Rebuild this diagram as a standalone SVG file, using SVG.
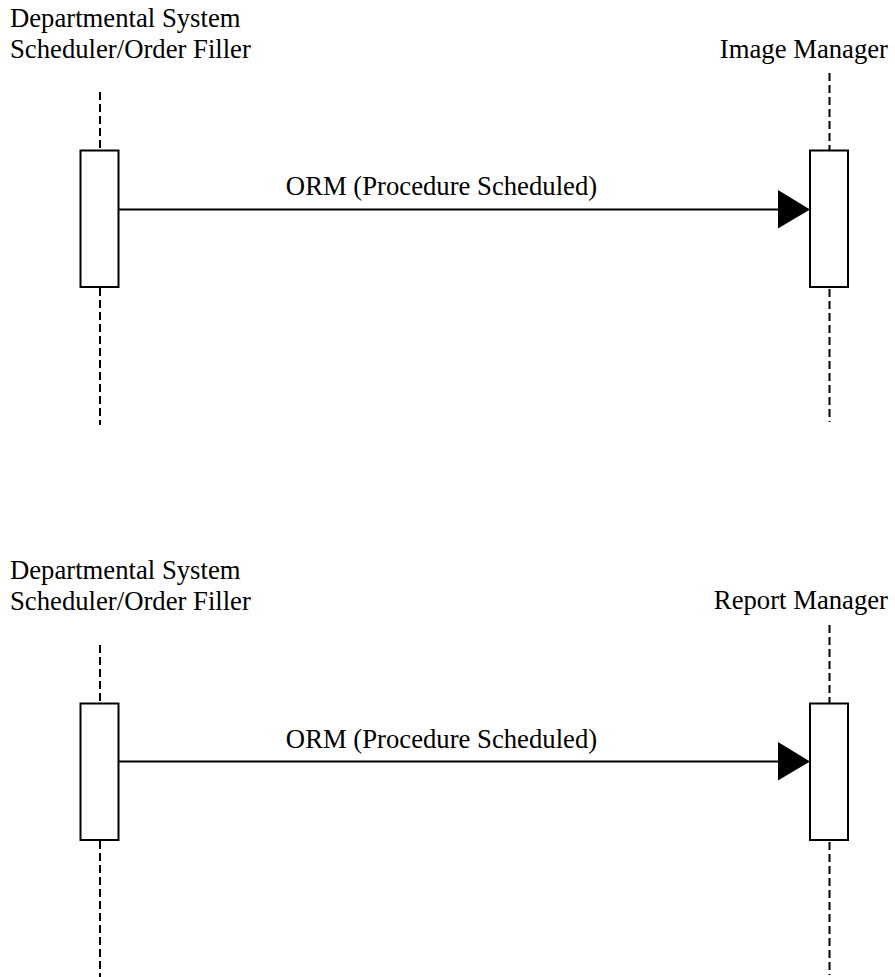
<svg xmlns="http://www.w3.org/2000/svg" width="895" height="977" viewBox="0 0 895 977">
<style>
text{font-family:'Liberation Serif','Times New Roman',serif;font-size:26.7px;fill:#000}
.life{stroke:#000;stroke-width:2;stroke-dasharray:8 4;fill:none}
.act{fill:#fff;stroke:#000;stroke-width:2}
.msg{stroke:#000;stroke-width:2;fill:none}
.head{fill:#000}
</style>
<rect width="895" height="977" fill="#fff"/>
<g id="diagram1">
  <g id="dss1">
    <text x="10" y="27">Departmental System</text>
    <text x="10" y="57.5">Scheduler/Order Filler</text>
    <line class="life" x1="100" y1="92" x2="100" y2="150"/>
    <line class="life" x1="100" y1="288" x2="100" y2="425"/>
    <rect class="act" x="80.5" y="150.5" width="38" height="136.5"/>
  </g>
  <g id="im1">
    <text x="888" y="57.5" text-anchor="end">Image Manager</text>
    <line class="life" x1="829.5" y1="73" x2="829.5" y2="150"/>
    <line class="life" x1="829.5" y1="289" x2="829.5" y2="422"/>
    <rect class="act" x="810" y="150.5" width="38" height="136.5"/>
  </g>
  <g id="connectors1">
    <line class="msg" x1="119" y1="209.5" x2="780" y2="209.5"/>
    <polygon class="head" points="778,190 810,209.5 778,228.5"/>
    <text x="441.5" y="195" text-anchor="middle">ORM (Procedure Scheduled)</text>
  </g>
</g>
<g id="diagram2">
  <g id="dss2">
    <text x="10" y="578.5">Departmental System</text>
    <text x="10" y="609.5">Scheduler/Order Filler</text>
    <line class="life" x1="100" y1="645" x2="100" y2="703"/>
    <line class="life" x1="100" y1="841" x2="100" y2="977"/>
    <rect class="act" x="80.5" y="703.5" width="38" height="136.5"/>
  </g>
  <g id="rm2">
    <text x="888" y="609" text-anchor="end">Report Manager</text>
    <line class="life" x1="829.5" y1="625" x2="829.5" y2="703"/>
    <line class="life" x1="829.5" y1="842" x2="829.5" y2="975"/>
    <rect class="act" x="810" y="703.5" width="38" height="136.5"/>
  </g>
  <g id="connectors2">
    <line class="msg" x1="119" y1="761.5" x2="780" y2="761.5"/>
    <polygon class="head" points="778,742 810,761.5 778,780.5"/>
    <text x="441.5" y="747.5" text-anchor="middle">ORM (Procedure Scheduled)</text>
  </g>
</g>
</svg>
